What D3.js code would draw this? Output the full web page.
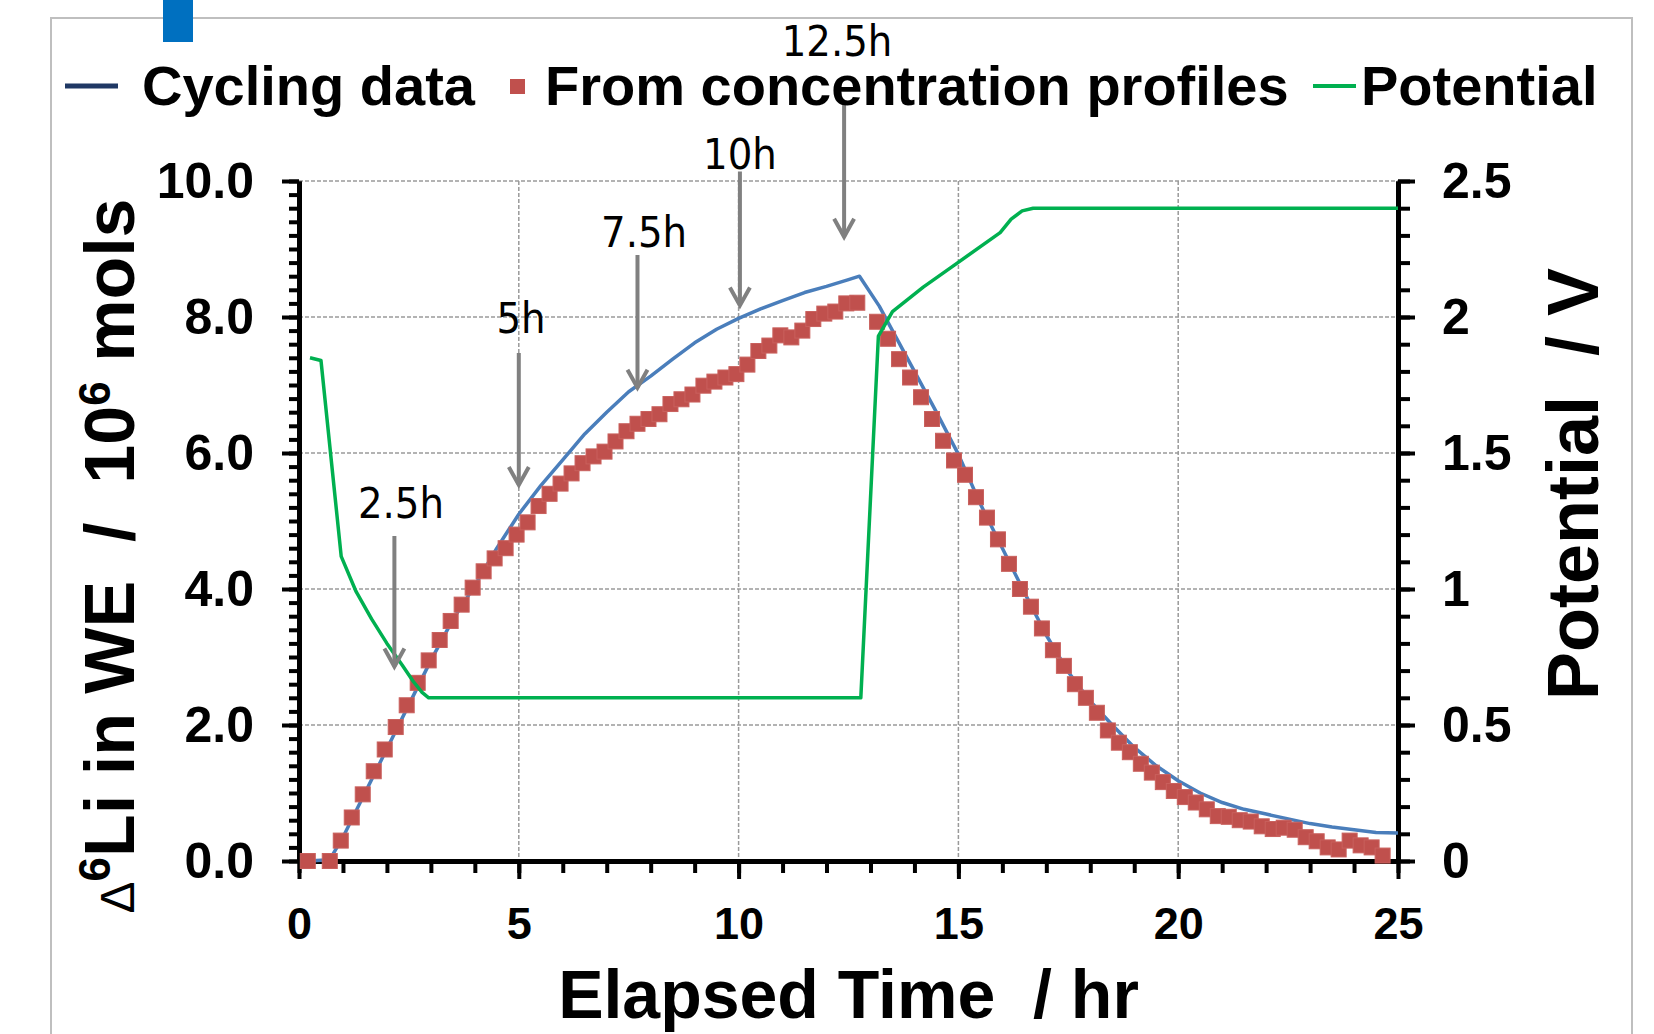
<!DOCTYPE html>
<html lang="en">
<head>
  <meta charset="UTF-8" />
  <title>6Li in WE vs elapsed time</title>
  <script src="https://d3js.org/d3.v7.min.js"></script>
  <style>
    body { margin: 0; background: #fff; }
    svg { display: block; }
    text { font-family: 'Liberation Sans', Arial, sans-serif; font-weight: bold; fill: #000; }
    .note { font-family: 'DejaVu Sans Condensed', 'Noto Sans', sans-serif; font-weight: normal; }
    .pre { white-space: pre; }
  </style>
</head>
<body>
<script>
  // cycling data (blue line): time in hr, delta 6Li / 1e-6 mol
  const cycTime = [0.2, 0.7, 1.0, 1.5, 2.0, 2.5, 3.0, 3.5, 4.0, 4.5, 5.0, 5.5, 6.0, 6.5, 7.0, 7.5, 8.0, 8.5,
    9.0, 9.5, 10.0, 10.5, 11.0, 11.5, 12.0, 12.5, 12.75, 13.2, 13.5, 14.0, 14.5, 15.0, 15.5, 16.0, 16.5,
    17.0, 17.5, 18.0, 18.5, 19.0, 19.5, 20.0, 20.5, 21.0, 21.5, 22.0, 22.5, 23.0, 23.5, 24.0, 24.5, 25.0];
  const cycLi = [0.0, 0.02, 0.35, 1.0, 1.65, 2.3, 2.95, 3.55, 4.05, 4.6, 5.1, 5.52, 5.9, 6.28, 6.6, 6.9, 7.13, 7.38,
    7.62, 7.82, 7.98, 8.12, 8.24, 8.36, 8.45, 8.55, 8.6, 8.16, 7.8, 7.2, 6.6, 5.98, 5.25, 4.6, 3.95,
    3.32, 2.78, 2.35, 2.0, 1.67, 1.4, 1.18, 1.0, 0.86, 0.76, 0.69, 0.62, 0.55, 0.5, 0.46, 0.42, 0.41];

  // from concentration profiles (red squares)
  const profTime = [0.2, 0.7, 0.95, 1.2, 1.45, 1.7, 1.95, 2.2, 2.45, 2.7, 2.95, 3.2, 3.45, 3.7, 3.95, 4.2, 4.45,
    4.7, 4.95, 5.2, 5.45, 5.7, 5.95, 6.2, 6.45, 6.7, 6.95, 7.2, 7.45, 7.7, 7.95, 8.2, 8.45, 8.7, 8.95,
    9.2, 9.45, 9.7, 9.95, 10.2, 10.45, 10.7, 10.95, 11.2, 11.45, 11.7, 11.95, 12.2, 12.45, 12.7,
    13.15, 13.4, 13.65, 13.9, 14.15, 14.4, 14.65, 14.9, 15.15, 15.4, 15.65, 15.9, 16.15, 16.4, 16.65,
    16.9, 17.15, 17.4, 17.65, 17.9, 18.15, 18.4, 18.65, 18.9, 19.15, 19.4, 19.65, 19.9, 20.15, 20.4,
    20.65, 20.9, 21.15, 21.4, 21.65, 21.9, 22.15, 22.4, 22.65, 22.9, 23.15, 23.4, 23.65, 23.9, 24.15,
    24.4, 24.65];
  const profLi = [0.0, 0.0, 0.3, 0.64, 0.98, 1.32, 1.64, 1.97, 2.29, 2.62, 2.95, 3.25, 3.53, 3.77, 4.02, 4.26, 4.45,
    4.6, 4.8, 4.98, 5.22, 5.4, 5.55, 5.7, 5.85, 5.95, 6.02, 6.17, 6.32, 6.43, 6.5, 6.57, 6.72, 6.79, 6.86,
    6.99, 7.05, 7.11, 7.16, 7.3, 7.5, 7.58, 7.73, 7.7, 7.8, 7.97, 8.05, 8.08, 8.2, 8.21,
    7.93, 7.68, 7.38, 7.11, 6.82, 6.5, 6.18, 5.89, 5.68, 5.35, 5.05, 4.73, 4.37, 4.0, 3.74,
    3.42, 3.1, 2.87, 2.6, 2.4, 2.18, 1.92, 1.74, 1.6, 1.43, 1.3, 1.16, 1.03, 0.94, 0.86,
    0.76, 0.66, 0.65, 0.6, 0.58, 0.51, 0.47, 0.49, 0.46, 0.35, 0.29, 0.2, 0.17, 0.3, 0.23,
    0.2, 0.08];

  // potential (green line), volts on right axis
  const potTime = [0.25, 0.5, 0.96, 1.3, 1.65, 2.0, 2.35, 2.6, 2.8, 2.95, 12.78, 13.18, 13.5, 14.2, 14.9, 15.95, 16.2, 16.45, 16.7, 25.0];
  const potV = [1.85, 1.84, 1.12, 0.99, 0.89, 0.8, 0.72, 0.66, 0.62, 0.6, 0.6, 1.93, 2.02, 2.11, 2.19, 2.31, 2.36, 2.39, 2.4, 2.4];

  // arrow annotations (arrow x, arrow top, arrow tip, label x, label baseline) in data units
  const noteLabels = ["2.5h", "5h", "7.5h", "10h", "12.5h"];
  const noteX = [2.17, 5.0, 7.7, 10.03, 12.4];
  const noteTop = [4.78, 7.47, 8.91, 10.14, 11.15];
  const noteTip = [2.86, 5.53, 6.96, 8.17, 9.18];
  const noteTextX = [2.32, 5.05, 7.85, 10.03, 12.24];
  const noteTextY = [5.04, 7.76, 9.03, 10.18, 11.84];

  const xTicksMajor = [0, 5, 10, 15, 20, 25];
  const yTicksMajor = [0, 2, 4, 6, 8, 10];
  const y2TicksMajor = [0, 0.5, 1, 1.5, 2, 2.5];

  const W = 1654, H = 1034;
  const pLeft = 299, pRight = 1398, pTop = 181, pBottom = 861;

  const svg = d3.select("body").append("svg").attr("width", W).attr("height", H);

  // slide frame
  svg.append("rect").attr("x", 51).attr("y", 18).attr("width", 1581).attr("height", 1100)
    .attr("fill", "none").attr("stroke", "#bfbfbf").attr("stroke-width", 2);
  svg.append("rect").attr("x", 163).attr("y", 0).attr("width", 30).attr("height", 42).attr("fill", "#0070c0");

  const x = d3.scaleLinear().domain([0, 25]).range([pLeft, pRight]);
  const y = d3.scaleLinear().domain([0, 10]).range([pBottom, pTop]);
  const y2 = d3.scaleLinear().domain([0, 2.5]).range([pBottom, pTop]);

  // grid
  const grid = svg.append("g").attr("stroke", "#9a9a9a").attr("stroke-width", 1.5).attr("stroke-dasharray", "4,2");
  grid.selectAll(".gx").data([5, 10, 15, 20]).join("line")
    .attr("x1", d => x(d)).attr("x2", d => x(d)).attr("y1", pTop).attr("y2", pBottom);
  grid.selectAll(".gy").data([2, 4, 6, 8, 10]).join("line")
    .attr("x1", pLeft).attr("x2", pRight).attr("y1", d => y(d)).attr("y2", d => y(d));

  // axes
  function styleAxis(g) {
    g.select(".domain").attr("stroke", "#000").attr("stroke-width", 5);
    g.selectAll(".tick line").attr("stroke", "#000").attr("stroke-width", 4);
    g.selectAll("text").attr("font-family", null).attr("fill", "#000");
  }

  svg.append("g").attr("transform", `translate(${pLeft},0)`)
    .call(d3.axisLeft(y).tickValues(d3.range(0, 10.01, 0.2)).tickSize(10).tickSizeOuter(0).tickFormat(""))
    .call(styleAxis);
  svg.append("g").attr("transform", `translate(${pLeft},0)`)
    .call(d3.axisLeft(y).tickValues(yTicksMajor).tickSize(17).tickSizeOuter(0).tickPadding(28).tickFormat(d3.format(".1f")))
    .call(styleAxis)
    .selectAll("text").attr("font-size", 50);

  svg.append("g").attr("transform", `translate(${pRight},0)`)
    .call(d3.axisRight(y2).tickValues(d3.range(0, 2.501, 0.1)).tickSize(12).tickSizeOuter(0).tickFormat(""))
    .call(styleAxis);
  svg.append("g").attr("transform", `translate(${pRight},0)`)
    .call(d3.axisRight(y2).tickValues(y2TicksMajor).tickSize(17).tickSizeOuter(0).tickPadding(27).tickFormat(d => String(d)))
    .call(styleAxis)
    .selectAll("text").attr("font-size", 50);

  svg.append("g").attr("transform", `translate(0,${pBottom})`)
    .call(d3.axisBottom(x).tickValues(d3.range(0, 26, 1)).tickSize(12).tickSizeOuter(0).tickFormat(""))
    .call(styleAxis);
  svg.append("g").attr("transform", `translate(0,${pBottom})`)
    .call(d3.axisBottom(x).tickValues(xTicksMajor).tickSize(18).tickSizeOuter(0).tickPadding(28))
    .call(styleAxis)
    .selectAll("text").attr("font-size", 45);

  // series
  const cyc = cycTime.map((t, i) => [t, cycLi[i]]);
  const prof = profTime.map((t, i) => [t, profLi[i]]);
  const pot = potTime.map((t, i) => [t, potV[i]]);

  svg.append("path").datum(cyc)
    .attr("d", d3.line().x(d => x(d[0])).y(d => y(d[1])))
    .attr("fill", "none").attr("stroke", "#4a7ebb").attr("stroke-width", 3.5).attr("stroke-linejoin", "round");

  const sq = 15;
  svg.append("g").selectAll("rect").data(prof).join("rect")
    .attr("x", d => x(d[0]) - sq / 2).attr("y", d => y(d[1]) - sq / 2)
    .attr("width", sq).attr("height", sq)
    .attr("fill", "#c0504d").attr("stroke", "#c9605d").attr("stroke-width", 1);

  svg.append("path").datum(pot)
    .attr("d", d3.line().x(d => x(d[0])).y(d => y2(d[1])))
    .attr("fill", "none").attr("stroke", "#00b050").attr("stroke-width", 3.5).attr("stroke-linejoin", "round");

  // arrows
  const notes = noteLabels.map((l, i) => ({
    label: l, t: noteX[i], top: noteTop[i], tip: noteTip[i], tx: noteTextX[i], ty: noteTextY[i]
  }));
  const ng = svg.append("g").attr("stroke", "#808080").attr("stroke-width", 4).attr("fill", "none");
  ng.selectAll("line").data(notes).join("line")
    .attr("x1", d => x(d.t)).attr("x2", d => x(d.t))
    .attr("y1", d => y(d.top)).attr("y2", d => y(d.tip));
  ng.selectAll("path").data(notes).join("path")
    .attr("d", d => `M${x(d.t) - 10},${y(d.tip) - 18}L${x(d.t)},${y(d.tip)}L${x(d.t) + 10},${y(d.tip) - 18}`);
  svg.append("g").selectAll("text").data(notes).join("text")
    .attr("class", "note")
    .attr("x", d => x(d.tx)).attr("y", d => y(d.ty))
    .attr("text-anchor", "middle").attr("font-size", 43)
    .text(d => d.label);

  // legend
  const lg = svg.append("g");
  lg.append("line").attr("x1", 65).attr("x2", 118).attr("y1", 86).attr("y2", 86)
    .attr("stroke", "#1f3864").attr("stroke-width", 5);
  lg.append("text").attr("x", 142).attr("y", 105).attr("font-size", 56).text("Cycling data");
  lg.append("rect").attr("x", 510).attr("y", 79).attr("width", 15).attr("height", 15).attr("fill", "#c0504d");
  lg.append("text").attr("x", 545).attr("y", 105).attr("font-size", 56).text("From concentration profiles");
  lg.append("line").attr("x1", 1313).attr("x2", 1356).attr("y1", 86).attr("y2", 86)
    .attr("stroke", "#00b050").attr("stroke-width", 4);
  lg.append("text").attr("x", 1361).attr("y", 105).attr("font-size", 56).text("Potential");

  // axis titles
  svg.append("text").attr("class", "pre")
    .attr("x", (pLeft + pRight) / 2).attr("y", 1018).attr("text-anchor", "middle").attr("font-size", 68)
    .text("Elapsed Time  / hr");

  const lt = svg.append("text").attr("class", "pre")
    .attr("transform", "translate(134,556) rotate(-90)").attr("text-anchor", "middle").attr("font-size", 70);
  lt.append("tspan").attr("font-weight", "normal").attr("font-size", 48).text("\u0394");
  lt.append("tspan").attr("font-size", 44).attr("dy", -24).text("6");
  lt.append("tspan").attr("dy", 24).text("Li in WE  /  10");
  lt.append("tspan").attr("font-size", 44).attr("dy", -24).text("6");
  lt.append("tspan").attr("dy", 24).text(" mols");

  svg.append("text").attr("class", "pre")
    .attr("transform", "translate(1598,484) rotate(-90)").attr("text-anchor", "middle").attr("font-size", 72)
    .text("Potential  / V");
</script>
</body>
</html>
